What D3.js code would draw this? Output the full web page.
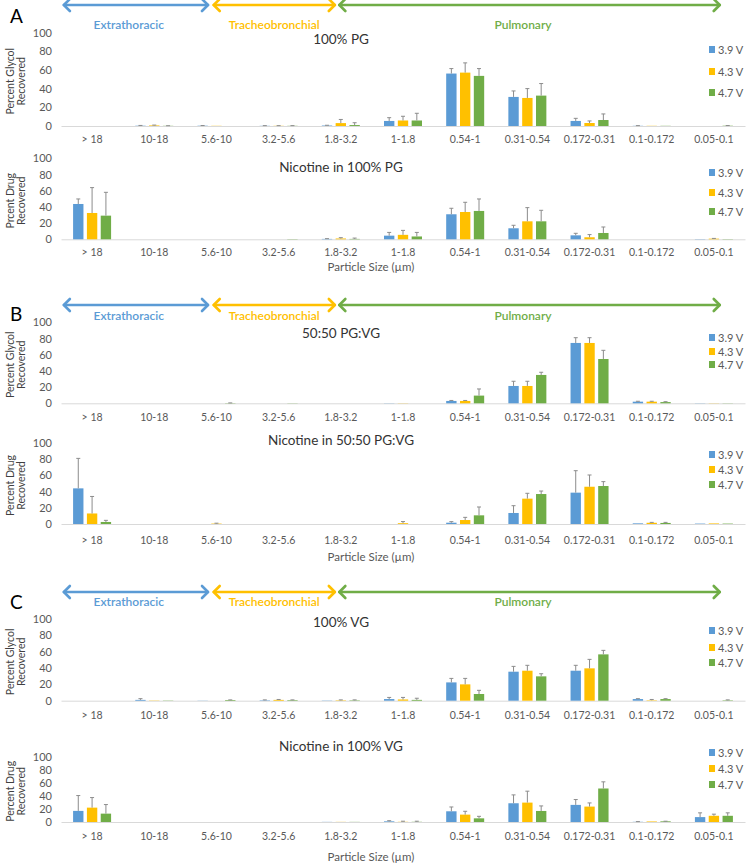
<!DOCTYPE html>
<html><head><meta charset="utf-8">
<script src="https://cdn.jsdelivr.net/npm/d3@7/dist/d3.min.js"></script>
<style>
html,body{margin:0;padding:0;background:#fff;}
svg{display:block;}
text{font-family:Lato,"Open Sans",sans-serif;}
</style></head>
<body><svg id="chart" width="747" height="868"></svg>
<script>
// ---------- DATA ----------
const categories = ["> 18","10-18","5.6-10","3.2-5.6","1.8-3.2","1-1.8","0.54-1","0.31-0.54","0.172-0.31","0.1-0.172","0.05-0.1"];
const seriesNames = ["3.9 V","4.3 V","4.7 V"];
const seriesColors = ["#5B9BD5","#FFC000","#70AD47"];
const yTicks = [0,20,40,60,80,100];
const regionNames = ["Extrathoracic","Tracheobronchial","Pulmonary"];

// A: 100% PG - glycol
const glyPG_39 = [0,0.3,0.3,0.2,0.5,5.4,56.1,31.1,5.4,0.2,0];
const glyPG_43 = [0,0.6,0.2,0.2,3.1,5.9,57.1,30.0,3.2,0.2,0];
const glyPG_47 = [0,0.2,0,0.2,1.0,5.9,53.6,32.5,6.4,0.2,0.3];
const errGlyPG_39 = [0,0.3,0.2,0.2,0.3,3.5,5.3,6.4,2.8,0.2,0];
const errGlyPG_43 = [0,0.4,0,0.2,3.9,4.5,10.4,10.0,2.2,0,0];
const errGlyPG_47 = [0,0.1,0,0.2,2.5,7.7,7.8,12.9,6.5,0,0.2];
// A: nicotine in 100% PG
const nicPG_39 = [43.6,0,0,0,0.5,4.5,30.9,13.6,4.9,0,0.3];
const nicPG_43 = [32.5,0,0,0,1.0,5.5,33.7,22.2,2.5,0,0.8];
const nicPG_47 = [29.2,0,0,0.3,0.5,3.5,35.0,22.2,7.8,0,0.3];
const errNicPG_39 = [6.2,0,0,0,0.3,4.0,7.4,3.7,2.5,0,0];
const errNicPG_43 = [31.3,0,0,0,1.0,5.5,12.0,16.9,3.3,0,0.3];
const errNicPG_47 = [28.8,0,0,0,1.0,5.0,14.8,13.6,7.4,0,0];
// B: 50:50 PG:VG - glycol
const gly50_39 = [0,0,0,0,0,0.2,2.9,21.4,74.5,2.0,0.2];
const gly50_43 = [0,0,0,0,0,0.2,2.9,21.4,74.5,2.0,0.2];
const gly50_47 = [0,0,0.3,0.2,0,0,9.5,35.0,54.7,1.5,0.2];
const errGly50_39 = [0,0,0,0,0,0,0.6,5.8,6.5,0.5,0];
const errGly50_43 = [0,0,0,0,0,0,0.6,5.8,6.5,0.5,0];
const errGly50_47 = [0,0,0.2,0,0,0,8.2,3.3,10.7,0.5,0];
// B: nicotine in 50:50 PG:VG
const nic50_39 = [44.0,0,0,0,0,0,1.6,13.6,38.7,0.8,0.5];
const nic50_43 = [13.0,0,0.5,0,0,1.0,4.9,31.3,46.0,1.5,0.7];
const nic50_47 = [2.5,0,0,0,0,0,10.7,37.0,46.9,1.3,0.5];
const errNic50_39 = [37.0,0,0,0,0,0,1.3,9.0,27.1,0,0];
const errNic50_43 = [21.0,0,0.5,0,0,2.0,3.3,6.6,14.5,0.5,0];
const errNic50_47 = [2.0,0,0,0,0,0,10.3,3.7,5.4,0.7,0];
// C: 100% VG - glycol
const glyVG_39 = [0,1.0,0.2,0.5,0.3,2.0,22.4,35.5,36.7,2.0,0];
const glyVG_43 = [0,0.3,0,1.0,0.5,1.5,20.0,36.7,39.6,0.5,0];
const glyVG_47 = [0,0.3,0.8,0.7,0.5,1.0,8.2,29.8,56.7,2.0,0.5];
const errGlyVG_39 = [0,1.5,0,0.5,0,2.0,4.9,6.5,6.6,0.5,0];
const errGlyVG_43 = [0,0,0,0.5,0.5,2.5,7.3,6.6,11.0,1.0,0];
const errGlyVG_47 = [0,0,0.2,0.3,0.5,2.0,4.5,3.2,4.9,0.5,0.5];
// C: nicotine in 100% VG
const nicVG_39 = [17.0,0,0,0,0.2,1.0,16.4,28.7,26.2,0.3,7.5];
const nicVG_43 = [22.0,0,0,0,0.2,0.3,11.3,29.7,23.6,0.8,9.5];
const nicVG_47 = [12.8,0,0,0,0.2,0.3,5.6,16.9,51.3,1.0,9.5];
const errNicVG_39 = [23.5,0,0,0,0,1.0,6.6,12.8,8.2,0.3,6.5];
const errNicVG_43 = [15.4,0,0,0,0,0.9,5.1,17.5,5.6,0,2.5];
const errNicVG_47 = [13.9,0,0,0,0,0.9,3.1,7.7,10.2,0.2,4.5];

// ---------- LAYOUT ----------
const svg = d3.select("#chart");
const x = d3.scaleBand().domain(categories).range([61,745]).padding(0);
const step = x.step();
const cx = c => x(c) + x.bandwidth()/2;
const x1 = d3.scaleBand().domain(seriesNames).range([-19,19]).paddingInner(0.25);

// regions expressed in band-step units from first category centre
const regionSpans = [[-0.47,1.88,0.59],[1.94,3.92,2.93],[3.96,10.11,6.93]];

const groups = [
  {letter:"A", arrowY:5, labelY:25, letterY:16},
  {letter:"B", arrowY:305, labelY:316, letterY:314},
  {letter:"C", arrowY:592, labelY:602, letterY:602}
];

const panels = [
  {title:"100% PG", titleY:39, base:126, top:32.5, yt:["Percent Glycol","Recovered"], legY:[50,72,93], xlab:140,
   vals:[glyPG_39,glyPG_43,glyPG_47], errs:[errGlyPG_39,errGlyPG_43,errGlyPG_47]},
  {title:"Nicotine in 100% PG", titleY:167, base:239.3, top:158.3, yt:["Prcent Drug","Recovered"], legY:[173,193,212], xlab:253, psY:267,
   vals:[nicPG_39,nicPG_43,nicPG_47], errs:[errNicPG_39,errNicPG_43,errNicPG_47]},
  {title:"50:50 PG:VG", titleY:333, base:403.3, top:322.3, yt:["Percent Glycol","Recovered"], legY:[338,352,365], xlab:418,
   vals:[gly50_39,gly50_43,gly50_47], errs:[errGly50_39,errGly50_43,errGly50_47]},
  {title:"Nicotine in 50:50 PG:VG", titleY:440, base:524, top:443, yt:["Percent Drug","Recovered"], legY:[455,470,485], xlab:541, psY:557,
   vals:[nic50_39,nic50_43,nic50_47], errs:[errNic50_39,errNic50_43,errNic50_47]},
  {title:"100% VG", titleY:622, base:700.7, top:619, yt:["Percent Glycol","Recovered"], legY:[631,648,663], xlab:716,
   vals:[glyVG_39,glyVG_43,glyVG_47], errs:[errGlyVG_39,errGlyVG_43,errGlyVG_47]},
  {title:"Nicotine in 100% VG", titleY:746, base:822, top:756.7, yt:["Percent Drug","Recovered"], legY:[753,769,785], xlab:837, psY:857,
   vals:[nicVG_39,nicVG_43,nicVG_47], errs:[errNicVG_39,errNicVG_43,errNicVG_47]}
];

// ---------- REGION ARROWS ----------
const c0 = cx(categories[0]);
groups.forEach(g => {
  svg.append("text").attr("x",10).attr("y",g.letterY).attr("dy","0.35em")
    .attr("font-size",19).attr("fill","#000").text(g.letter);
  regionSpans.forEach((r,i) => {
    const xa = c0 + r[0]*step, xb = c0 + r[1]*step, col = seriesColors[i];
    const ga = svg.append("g").attr("stroke",col).attr("stroke-width",2.6).attr("fill","none")
      .attr("stroke-linecap","round").attr("stroke-linejoin","round");
    ga.append("line").attr("x1",xa+1).attr("x2",xb-1).attr("y1",g.arrowY).attr("y2",g.arrowY);
    ga.append("path").attr("d",`M${xa+7},${g.arrowY-6}L${xa+1},${g.arrowY}L${xa+7},${g.arrowY+6}`);
    ga.append("path").attr("d",`M${xb-7},${g.arrowY-6}L${xb-1},${g.arrowY}L${xb-7},${g.arrowY+6}`);
    svg.append("text").attr("x",c0 + r[2]*step).attr("y",g.labelY).attr("dy","0.35em")
      .attr("text-anchor","middle").attr("font-size",12).attr("font-weight",600)
      .attr("fill",col).text(regionNames[i]);
  });
});

// ---------- PANELS ----------
panels.forEach(p => {
  const y = d3.scaleLinear().domain([0,100]).range([p.base,p.top]);
  const g = svg.append("g");

  // y axis labels
  const ya = g.append("g").attr("transform","translate(55,0)")
    .call(d3.axisLeft(y).tickValues(yTicks).tickSize(0).tickPadding(3));
  ya.select(".domain").remove();
  ya.selectAll("text").attr("font-family","Lato").attr("font-size",11).attr("fill","#595959");

  // x axis
  const xa = g.append("g").attr("transform",`translate(0,${p.base})`)
    .call(d3.axisBottom(x).tickSize(0).tickSizeOuter(0).tickPadding(p.xlab - p.base - 4));
  xa.select(".domain").attr("stroke","#d9d9d9").attr("stroke-width",1);
  xa.selectAll("text").attr("font-family","Lato").attr("font-size",10.5).attr("fill","#595959");

  // bars
  seriesNames.forEach((s,si) => {
    const data = categories.map((c,i) => ({c, v:p.vals[si][i], e:p.errs[si][i]}));
    g.append("g").selectAll("rect").data(data).join("rect")
      .attr("x", d => cx(d.c) + x1(s))
      .attr("width", x1.bandwidth())
      .attr("y", d => y(d.v))
      .attr("height", d => Math.max(0, y(0) - y(d.v)))
      .attr("fill", seriesColors[si]);
    const eg = g.append("g").attr("stroke","#8c8c8c").attr("stroke-width",1);
    const ed = data.filter(d => d.e > 0);
    eg.selectAll("line.v").data(ed).join("line").attr("class","v")
      .attr("x1", d => cx(d.c) + x1(s) + x1.bandwidth()/2)
      .attr("x2", d => cx(d.c) + x1(s) + x1.bandwidth()/2)
      .attr("y1", d => y(d.v)).attr("y2", d => y(d.v + d.e));
    eg.selectAll("line.cap").data(ed).join("line").attr("class","cap")
      .attr("x1", d => cx(d.c) + x1(s) + x1.bandwidth()/2 - 2)
      .attr("x2", d => cx(d.c) + x1(s) + x1.bandwidth()/2 + 2)
      .attr("y1", d => y(d.v + d.e)).attr("y2", d => y(d.v + d.e));
  });

  // title
  g.append("text").attr("x",341).attr("y",p.titleY).attr("dy","0.35em").attr("text-anchor","middle")
    .attr("font-size",13.5).attr("fill","#333").text(p.title);

  // y title (two lines, rotated)
  const ymid = (p.base + p.top)/2 + 2;
  p.yt.forEach((t,i) => {
    g.append("text").attr("transform",`translate(${10 + i*11},${ymid}) rotate(-90)`)
      .attr("text-anchor","middle").attr("dy","0.35em")
      .attr("font-family","Open Sans").attr("font-size",10.5).attr("fill","#404040").text(t);
  });

  // legend
  seriesNames.forEach((s,si) => {
    g.append("rect").attr("x",709).attr("y",p.legY[si]-4).attr("width",6).attr("height",7).attr("fill",seriesColors[si]);
    g.append("text").attr("x",718).attr("y",p.legY[si]).attr("dy","0.35em")
      .attr("font-size",11).attr("fill","#595959").text(s);
  });

  if (p.psY) {
    g.append("text").attr("x",371).attr("y",p.psY).attr("dy","0.35em").attr("text-anchor","middle")
      .attr("font-size",11.5).attr("fill","#595959").text("Particle Size (\u00b5m)");
  }
});
</script></body></html>
